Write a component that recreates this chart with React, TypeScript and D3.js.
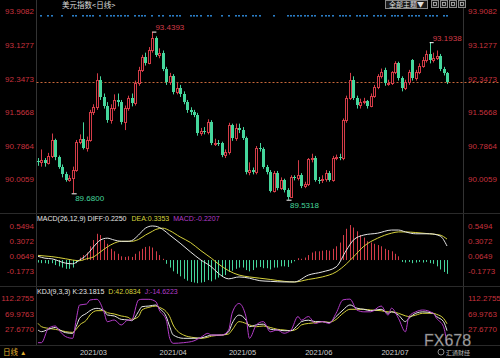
import React from 'react';
import * as d3 from 'd3';

// ---- price candles ----
const opens = [
  90.44, 90.40, 90.45, 90.38, 90.55, 90.92, 90.52, 90.30, 90.12, 90.00,
  90.04, 90.22, 90.87, 90.94, 90.73, 90.92, 91.56, 91.68, 92.32, 91.92,
  91.72, 91.38, 91.66, 91.85, 91.80, 91.33, 91.66, 91.90, 91.78, 92.24,
  92.55, 92.84, 92.72, 93.00, 93.28, 92.89, 92.95, 92.58, 92.26, 92.40,
  92.03, 92.12, 92.00, 91.80, 91.61, 91.56, 91.50, 91.08, 91.13, 91.10,
  91.33, 90.85, 90.86, 90.84, 90.57, 90.63, 91.26, 90.96, 91.20, 91.15,
  90.96, 90.18, 90.22, 90.18, 90.73, 90.72, 90.29, 90.18, 89.73, 90.15,
  89.80, 89.99, 89.76, 89.60, 90.06, 90.03, 90.10, 89.85, 89.90, 90.47,
  90.50, 90.00, 89.98, 90.02, 90.16, 90.00, 90.50, 90.52, 90.50, 91.38,
  91.90, 92.32, 91.90, 91.73, 91.80, 91.82, 91.72, 91.95, 92.15, 92.40,
  92.55, 92.24, 92.25, 92.49, 92.70, 92.35, 92.12, 92.26, 92.77, 92.35,
  92.49, 92.65, 92.77, 92.93, 92.77, 92.82, 92.88, 92.58, 92.47,
];
const highs = [
  90.50, 90.70, 90.50, 90.62, 91.07, 90.95, 90.56, 90.35, 90.18, 90.10,
  90.30, 90.92, 91.05, 91.33, 91.00, 91.62, 91.75, 92.47, 92.40, 92.00,
  91.80, 91.75, 91.98, 92.00, 91.85, 91.72, 91.95, 92.00, 92.30, 92.62,
  92.90, 92.95, 93.08, 93.4393, 93.33, 93.05, 93.00, 92.62, 92.48, 92.45,
  92.25, 92.20, 92.05, 91.85, 91.68, 91.62, 91.55, 91.20, 91.22, 91.40,
  91.38, 90.95, 90.92, 90.88, 90.70, 91.32, 91.30, 91.30, 91.30, 91.22,
  91.00, 90.40, 90.28, 90.78, 90.85, 90.75, 90.34, 90.22, 90.20, 90.20,
  90.05, 90.02, 89.80, 90.10, 90.10, 90.45, 90.15, 89.95, 90.50, 90.60,
  90.55, 90.06, 90.10, 90.22, 90.20, 90.55, 90.58, 90.60, 91.42, 91.95,
  92.48, 92.40, 91.95, 91.88, 91.90, 91.85, 92.00, 92.20, 92.45, 92.58,
  92.60, 92.32, 92.52, 92.75, 92.74, 92.40, 92.32, 92.55, 92.80, 92.55,
  92.70, 92.85, 93.00, 93.1938, 92.95, 93.00, 92.92, 92.62, 92.50,
];
const lows = [
  90.32, 90.30, 90.30, 90.35, 90.50, 90.45, 90.25, 90.05, 89.95, 89.95,
  89.68, 90.18, 90.82, 90.70, 90.65, 90.88, 91.50, 91.62, 91.85, 91.65,
  91.32, 91.30, 91.60, 91.70, 91.28, 91.15, 91.60, 91.70, 91.72, 92.18,
  92.50, 92.65, 92.68, 92.95, 92.85, 92.82, 92.52, 92.20, 92.20, 91.98,
  91.98, 91.92, 91.75, 91.55, 91.50, 91.45, 91.02, 91.02, 91.05, 91.05,
  90.80, 90.78, 90.78, 90.52, 90.50, 90.58, 90.90, 90.90, 91.08, 90.92,
  90.12, 90.10, 90.12, 90.12, 90.65, 90.25, 90.12, 89.70, 89.70, 89.75,
  89.76, 89.70, 89.5318, 89.58, 89.98, 89.98, 89.80, 89.80, 89.85, 90.40,
  89.95, 89.90, 89.92, 89.95, 89.95, 89.95, 90.45, 90.45, 90.45, 91.32,
  91.85, 91.85, 91.65, 91.65, 91.75, 91.65, 91.68, 91.90, 92.10, 92.35,
  92.18, 92.18, 92.20, 92.45, 92.30, 92.05, 92.08, 92.20, 92.30, 92.30,
  92.45, 92.60, 92.72, 92.70, 92.72, 92.78, 92.52, 92.42, 92.22,
];
const closes = [
  90.40, 90.45, 90.38, 90.55, 90.92, 90.52, 90.30, 90.12, 90.00, 90.04,
  90.22, 90.87, 90.94, 90.73, 90.92, 91.56, 91.68, 92.32, 91.92, 91.72,
  91.38, 91.66, 91.85, 91.80, 91.33, 91.66, 91.90, 91.78, 92.24, 92.55,
  92.84, 92.72, 93.00, 93.28, 92.89, 92.95, 92.58, 92.26, 92.40, 92.03,
  92.12, 92.00, 91.80, 91.61, 91.56, 91.50, 91.08, 91.13, 91.10, 91.33,
  90.85, 90.86, 90.84, 90.57, 90.63, 91.26, 90.96, 91.20, 91.15, 90.96,
  90.18, 90.22, 90.18, 90.73, 90.72, 90.29, 90.18, 89.73, 90.15, 89.80,
  89.99, 89.76, 89.60, 90.06, 90.03, 90.10, 89.85, 89.90, 90.47, 90.50,
  90.00, 89.98, 90.02, 90.16, 90.00, 90.50, 90.52, 90.50, 91.38, 91.90,
  92.32, 91.90, 91.73, 91.80, 91.82, 91.72, 91.95, 92.15, 92.40, 92.49,
  92.24, 92.25, 92.49, 92.70, 92.35, 92.12, 92.26, 92.49, 92.35, 92.49,
  92.65, 92.77, 92.93, 92.77, 92.82, 92.88, 92.58, 92.47, 92.26,
];

const priceTicks = [93.9082, 93.1277, 92.3473, 91.5668, 90.7864, 90.0059];
const macdTicks = [0.5494, 0.3072, 0.0649, -0.1773];
const kdjTicks = [112.2755, 69.9763, 27.677];

const monthIdx = [16, 39, 59, 81, 103];
const monthLabels = ['2021/03', '2021/04', '2021/05', '2021/06', '2021/07'];

const markerIdx = [1, 3, 4, 7, 10, 11, 13, 14, 15, 16, 18, 20, 21, 22, 23, 24, 25, 26, 28, 29, 30, 31, 33, 35, 36, 38, 39, 40, 41, 44, 45, 46, 47, 49, 50, 53, 55, 57, 58, 59, 60, 62, 63, 64, 68, 72, 73, 74, 75, 76, 77, 78, 79, 80, 82, 83, 84, 85, 87, 88, 89, 90, 92, 93, 94, 95, 97, 98, 99, 100, 102, 103, 104, 105, 107, 108, 109, 110, 112, 113, 114, 115, 117, 118];

// ---- MACD ----
const macdIdx = [0, 2, 4, 8, 10, 12, 14, 16, 18, 20, 22, 24, 26, 27, 29, 31, 33, 34, 36, 38, 41, 44, 47, 50, 52, 55, 58, 61, 64, 67, 71, 74, 78, 82, 86, 89, 91, 94, 98, 102, 104, 106, 109, 113, 116, 118];
const diffVals = [0.06, 0.03, 0.02, -0.05, -0.06, 0.0, 0.08, 0.21, 0.32, 0.35, 0.32, 0.30, 0.30, 0.31, 0.40, 0.51, 0.545, 0.54, 0.49, 0.40, 0.27, 0.13, 0.0, -0.107, -0.21, -0.30, -0.27, -0.29, -0.33, -0.34, -0.35, -0.35, -0.24, -0.19, -0.11, 0.16, 0.32, 0.40, 0.43, 0.48, 0.48, 0.45, 0.42, 0.42, 0.385, 0.225];
const deaVals = [0.075, 0.065, 0.055, 0.02, 0.0, -0.01, 0.02, 0.05, 0.13, 0.21, 0.27, 0.30, 0.30, 0.30, 0.33, 0.40, 0.46, 0.49, 0.51, 0.47, 0.37, 0.28, 0.15, 0.03, -0.06, -0.17, -0.24, -0.27, -0.29, -0.31, -0.34, -0.35, -0.31, -0.27, -0.19, -0.06, 0.05, 0.22, 0.35, 0.43, 0.45, 0.45, 0.44, 0.42, 0.40, 0.3353];
const histVals = [
  -0.04, -0.05, -0.05, -0.06, -0.05, -0.08, -0.10, -0.12, -0.14, -0.14,
  -0.12, -0.05, 0.04, 0.08, 0.12, 0.22, 0.32, 0.42, 0.40, 0.32,
  0.26, 0.18, 0.14, 0.10, 0.06, 0.05, 0.06, 0.05, 0.10, 0.14,
  0.18, 0.21, 0.22, 0.20, 0.14, 0.08, 0.02, -0.06, -0.12, -0.18,
  -0.22, -0.26, -0.30, -0.33, -0.35, -0.36, -0.37, -0.36, -0.35, -0.32,
  -0.34, -0.31, -0.28, -0.27, -0.24, -0.19, -0.17, -0.14, -0.12, -0.12,
  -0.16, -0.18, -0.16, -0.12, -0.11, -0.13, -0.13, -0.15, -0.12, -0.12,
  -0.10, -0.10, -0.11, -0.05, -0.02, 0.03, 0.02, 0.04, 0.08, 0.12,
  0.14, 0.14, 0.15, 0.16, 0.15, 0.18, 0.22, 0.28, 0.40, 0.50,
  0.56, 0.52, 0.46, 0.40, 0.36, 0.30, 0.28, 0.26, 0.24, 0.22,
  0.18, 0.16, 0.14, 0.10, 0.06, -0.03, -0.04, -0.03, -0.05, -0.04,
  -0.03, -0.04, -0.03, -0.05, -0.06, -0.10, -0.15, -0.19, -0.2207,
];

// ---- KDJ ----
const kdjIdx = [0, 1, 3, 5, 6, 8, 10, 11, 12, 14, 15, 17, 19, 20, 22, 24, 26, 27, 29, 30, 32, 34, 35, 37, 38, 39, 42, 45, 47, 49, 50, 53, 55, 56, 58, 60, 61, 63, 65, 67, 69, 71, 73, 75, 76, 78, 80, 82, 84, 86, 88, 90, 92, 94, 96, 99, 101, 102, 104, 106, 107, 109, 111, 114, 115, 117, 118];
const kVals = [24.9, 20.3, 26.7, 32, 26.7, 17.5, 15.7, 34.1, 57.1, 70.9, 78.2, 84.6, 78.2, 66.3, 63.6, 54.3, 52.5, 50.6, 75.4, 89.2, 91, 93.8, 84.6, 61.7, 34.1, 11.2, 2, 2, 3, 8.4, 11, 11, 20, 43, 66, 52.5, 34, 39, 41, 27, 25, 23, 23, 39, 48, 52, 48, 48, 45, 62, 80, 94, 85, 82, 78, 82, 71, 75, 66, 48, 57, 71, 75, 71, 62, 48, 23.1815];
const dVals = [43.3, 34.1, 29.5, 26.7, 24.9, 20.3, 18.4, 26.7, 38.7, 52.5, 66.3, 78.2, 78.2, 72.7, 69.1, 63.6, 59.9, 54.3, 61.7, 80, 87.4, 91, 87.4, 75.4, 61.7, 38.7, 11, 4, 2, 4.8, 8, 11, 14, 25, 48, 43, 39, 34, 36, 32, 27, 25, 23, 30, 39, 43, 45, 48, 46, 54, 71, 82, 82, 82, 80, 78, 75, 75, 71, 64, 62, 66, 71, 71, 68, 57, 42.0834];
const jVals = [-10, -10, 29.5, 36, 24.9, 6.6, 2, 52.5, 93.8, 96.5, 107.6, 109.5, 75.4, 47.9, 52.5, 38.7, 52.5, 52.5, 107.6, 109.5, 109.5, 103, 80, 52.5, 2, -11.8, -10, -5, 4.8, 15.7, 11, 11, 25, 71, 98, 62, 2, 39, 48, 20, 25, 16, 25, 62, 52, 62, 43, 48, 43, 71, 108, 110, 80, 75, 75, 91, 66, 85, 57, 20, 62, 75, 80, 71, 57, 34, -14.6223];

const RED = '#d33c48';
const GREEN = '#45d69c';
const AXIS_RED = '#c8323e';
const WHITE = '#e6e6e6';
const YELLOW = '#d6d23c';
const MAGENTA = '#b43cc8';
const FONT = '"Liberation Sans", Arial, sans-serif';
const CJK = '"Noto Sans CJK SC", sans-serif';

export default function App() {
  const n = closes.length;
  const x = d3.scaleLinear().domain([0, n - 1]).range([38, 447]);
  const y = d3.scaleLinear().domain([priceTicks[5], priceTicks[1]]).range([179.3, 45]);
  const ym = d3.scaleLinear().domain([macdTicks[2], macdTicks[0]]).range([256, 225.7]);
  const yk = d3.scaleLinear().domain([kdjTicks[2], kdjTicks[0]]).range([329, 298.3]);

  const L = 36.5, R = 463.5;
  const mainTop = 0, mainBot = 213.5, macdBot = 286.5, kdjBot = 345.5;

  const macdLine = (vals: number[]) =>
    d3.line<number>().x((_, i) => x(macdIdx[i])).y((v) => ym(v)).curve(d3.curveMonotoneX)(vals) || '';
  const kdjLine = (vals: number[]) =>
    d3.line<number>().x((_, i) => x(kdjIdx[i])).y((v) => yk(v)).curve(d3.curveMonotoneX)(vals) || '';

  const half = 60;
  const firstHigh = d3.maxIndex(highs.slice(0, half));
  const secondHigh = half + d3.maxIndex(highs.slice(half));
  const firstLow = d3.minIndex(lows.slice(0, half));
  const secondLow = half + d3.minIndex(lows.slice(half));
  const last = closes[n - 1];
  const lastOf = (a: number[]) => a[a.length - 1].toFixed(4);

  return (
    <svg width={500} height={358} style={{ position: 'absolute', left: 0, top: 0, display: 'block' }}>
      <rect x={0} y={0} width={500} height={358} fill="#000" />

      {/* frame lines */}
      <line x1={L} x2={L} y1={mainTop} y2={kdjBot} stroke="#333" />
      <line x1={R} x2={R} y1={mainTop} y2={kdjBot} stroke="#333" />
      <line x1={0} x2={500} y1={mainBot} y2={mainBot} stroke="#2a2a2a" />
      <line x1={0} x2={500} y1={macdBot} y2={macdBot} stroke="#2a2a2a" />
      <line x1={0} x2={500} y1={kdjBot} y2={kdjBot} stroke="#2a2a2a" />

      {/* title & toolbar */}
      <text x={62} y={8} fontSize={7.5} fill="#dcdcdc" fontFamily={CJK}>美元指数&lt;日线&gt;</text>
      <rect x={385.5} y={0.5} width={42} height={8} fill="#1a1a1a" stroke="#8a8a8a" />
      <text x={389} y={7.3} fontSize={7} fill="#e0e0e0" fontFamily={CJK}>全部主题▼</text>
      {[431, 440, 449, 458].map((bx, i) => (
        <g key={i}>
          <rect x={bx + 0.5} y={0.5} width={7} height={7} fill="#1a1a1a" stroke="#8a8a8a" />
          <rect x={bx + 2.5} y={2.5} width={3} height={3} fill="none" stroke="#bbb" strokeWidth={0.8} />
        </g>
      ))}

      {/* event markers */}
      {markerIdx.map((i) => (
        <rect key={i} x={Math.round(x(i)) - 1} y={15} width={2} height={1.6} fill="#2a7cc4" />
      ))}

      {/* price axis labels */}
      {priceTicks.map((t) => (
        <g key={t}>
          <text x={34} y={y(t) + 3} fontSize={8} fill={AXIS_RED} textAnchor="end" fontFamily={FONT}>{t.toFixed(4)}</text>
          <text x={468} y={y(t) + 3} fontSize={8} fill={AXIS_RED} fontFamily={FONT}>{t.toFixed(4)}</text>
        </g>
      ))}

      {/* last price dashed line */}
      <line x1={L} x2={500} y1={Math.round(y(last)) + 0.5} y2={Math.round(y(last)) + 0.5} stroke="#c8683a" strokeDasharray="2,2" />

      {/* candles */}
      {closes.map((c, i) => {
        const o = opens[i];
        const h = highs[i];
        const l = lows[i];
        const cx = Math.round(x(i));
        const up = c >= o;
        const col = up ? RED : GREEN;
        const yTop = Math.round(y(Math.max(o, c)));
        const yBot = Math.round(y(Math.min(o, c)));
        const bh = Math.max(1, yBot - yTop);
        if (up) {
          return (
            <g key={i}>
              <line x1={cx + 0.5} x2={cx + 0.5} y1={y(h)} y2={yTop} stroke={col} />
              <line x1={cx + 0.5} x2={cx + 0.5} y1={yTop + bh} y2={y(l)} stroke={col} />
              <rect x={cx - 0.5} y={yTop + 0.5} width={2} height={bh} fill="#000" stroke={col} />
            </g>
          );
        }
        return (
          <g key={i}>
            <line x1={cx + 0.5} x2={cx + 0.5} y1={y(h)} y2={y(l)} stroke={col} />
            <rect x={cx - 1} y={yTop} width={3} height={bh} fill={col} />
          </g>
        );
      })}

      {/* extreme labels */}
      {[firstHigh, secondHigh].map((i) => (
        <g key={'h' + i}>
          <line x1={x(i)} x2={x(i) + 4} y1={y(highs[i]) + 0.5} y2={y(highs[i]) + 0.5} stroke="#fff" />
          <text x={x(i) + 3} y={y(highs[i]) - 1.5} fontSize={8} fill={RED} fontFamily={FONT}>{highs[i].toFixed(4)}</text>
        </g>
      ))}
      {[firstLow, secondLow].map((i) => (
        <g key={'l' + i}>
          <line x1={x(i) - 1} x2={x(i) + 4} y1={y(lows[i]) + 0.5} y2={y(lows[i]) + 0.5} stroke="#fff" />
          <text x={x(i) + 2.5} y={y(lows[i]) + 8} fontSize={8} fill={GREEN} fontFamily={FONT}>{lows[i].toFixed(4)}</text>
        </g>
      ))}

      {/* MACD panel */}
      <text x={37} y={221} fontSize={7} fontFamily={FONT}>
        <tspan fill={WHITE}>MACD(26,12,9) DIFF:{lastOf(diffVals)} </tspan>
        <tspan fill={YELLOW} dx={3}>DEA:{lastOf(deaVals)}</tspan>
        <tspan fill={MAGENTA} dx={4}>MACD:{lastOf(histVals)}</tspan>
      </text>
      {macdTicks.map((t) => (
        <g key={t}>
          <text x={34} y={ym(t) + 3} fontSize={8} fill={AXIS_RED} textAnchor="end" fontFamily={FONT}>{t.toFixed(4)}</text>
          <text x={468} y={ym(t) + 3} fontSize={8} fill={AXIS_RED} fontFamily={FONT}>{t.toFixed(4)}</text>
        </g>
      ))}
      <defs>
        <clipPath id="macdClip"><rect x={L} y={mainBot} width={R - L} height={macdBot - mainBot} /></clipPath>
        <clipPath id="kdjClip"><rect x={L} y={macdBot} width={R - L} height={kdjBot - macdBot} /></clipPath>
      </defs>
      <g clipPath="url(#macdClip)">
        {histVals.map((v, i) => (
          <line key={i} x1={Math.round(x(i)) + 0.5} x2={Math.round(x(i)) + 0.5} y1={ym(0)} y2={ym(v)} stroke={v >= 0 ? RED : GREEN} />
        ))}
        <path d={macdLine(deaVals)} fill="none" stroke={YELLOW} strokeWidth={1} />
        <path d={macdLine(diffVals)} fill="none" stroke={WHITE} strokeWidth={1} />
      </g>

      {/* KDJ panel */}
      <text x={37} y={294} fontSize={7} fontFamily={FONT}>
        <tspan fill={WHITE}>KDJ(9,3,3) K:{lastOf(kVals)}</tspan>
        <tspan fill={YELLOW} dx={4}>D:{lastOf(dVals)}</tspan>
        <tspan fill={MAGENTA} dx={4}>J:{lastOf(jVals)}</tspan>
      </text>
      {kdjTicks.map((t) => (
        <g key={t}>
          <text x={34} y={yk(t) + 3} fontSize={8} fill={AXIS_RED} textAnchor="end" fontFamily={FONT}>{t.toFixed(4)}</text>
          <text x={468} y={yk(t) + 3} fontSize={8} fill={AXIS_RED} fontFamily={FONT}>{t.toFixed(4)}</text>
        </g>
      ))}
      <g clipPath="url(#kdjClip)">
        <path d={kdjLine(dVals)} fill="none" stroke={YELLOW} strokeWidth={1} />
        <path d={kdjLine(kVals)} fill="none" stroke={WHITE} strokeWidth={1} />
        <path d={kdjLine(jVals)} fill="none" stroke={MAGENTA} strokeWidth={1} />
      </g>

      {/* date axis */}
      {monthIdx.map((i, k) => (
        <text key={k} x={x(i)} y={355} fontSize={7.5} fill="#cfcfcf" textAnchor="middle" fontFamily={FONT}>{monthLabels[k]}</text>
      ))}
      <text x={3} y={355} fontSize={7.5} fill="#e0b030" fontFamily={CJK}>日线</text>
      <text x={20} y={355} fontSize={6.5} fill="#e0b030" fontFamily={FONT}>▲</text>

      {/* watermark */}
      <text x={424} y={346} fontSize={16} fill="#d4d4d4" fillOpacity={0.85} stroke="#555" strokeWidth={0.4} fontFamily={FONT}>FX678</text>
      <circle cx={441} cy={352} r={3} fill="none" stroke="#aaa" strokeWidth={0.8} />
      <text x={446} y={355} fontSize={6} fill="#b8b8b8" fontFamily={CJK}>汇通财经</text>
    </svg>
  );
}
